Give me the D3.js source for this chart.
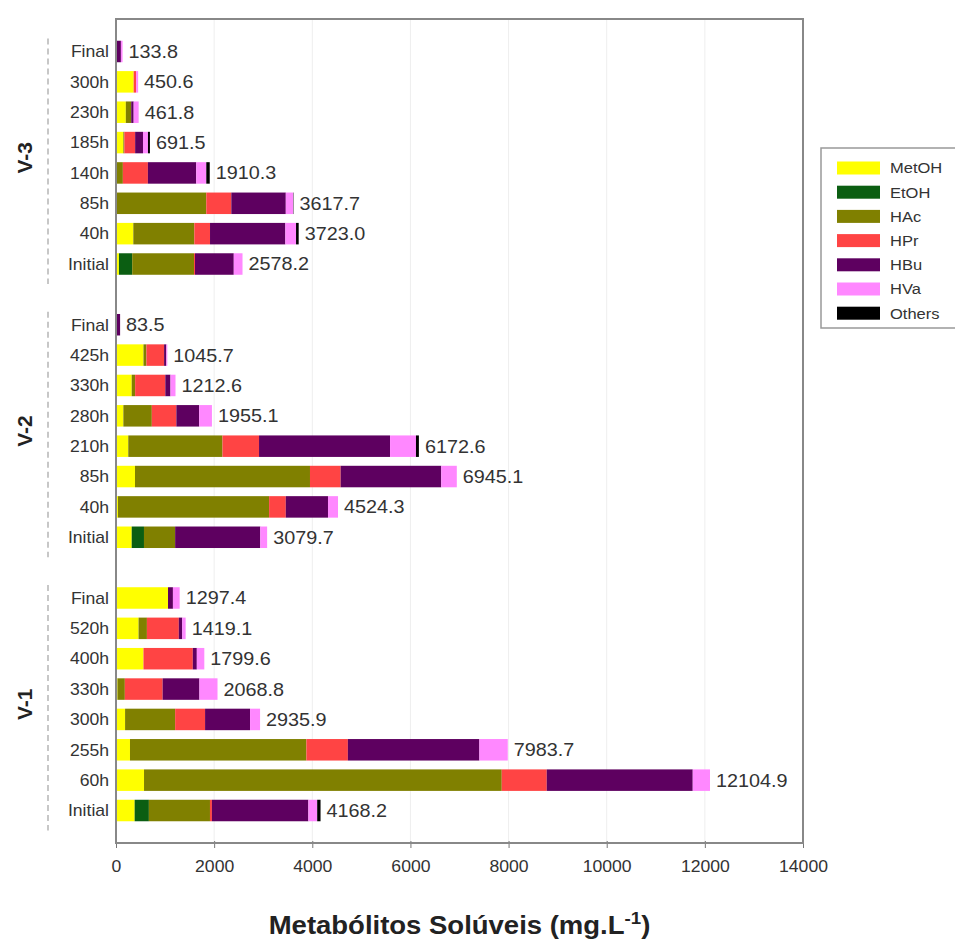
<!DOCTYPE html>
<html>
<head>
<meta charset="utf-8">
<script src="https://cdn.jsdelivr.net/npm/d3@7/dist/d3.min.js"></script>
<style>
  html, body { margin: 0; padding: 0; background: #fff; }
  svg { display: block; font-family: "Liberation Sans", Arial, sans-serif; }
</style>
</head>
<body>
<svg id="chart" width="955" height="941"></svg>
<script>
// Reactor groups, top to bottom, and their sampling times (top to bottom)
const groups = ["V-3", "V-2", "V-1"];
const timesV3 = ["Final", "300h", "230h", "185h", "140h", "85h", "40h", "Initial"];
const timesV2 = ["Final", "425h", "330h", "280h", "210h", "85h", "40h", "Initial"];
const timesV1 = ["Final", "520h", "400h", "330h", "300h", "255h", "60h", "Initial"];

// Soluble metabolites (mg/L); each array follows V-3, V-2, V-1 rows in the order above
const metoh  = [0, 360, 200, 150, 0, 0, 353, 60,      0, 560, 320, 150, 250, 387, 40, 320,      1060, 460, 560, 30, 185, 285, 571, 380];
const etoh   = [0, 0, 0, 0, 0, 0, 0, 270,             0, 0, 0, 0, 0, 0, 0, 250,                 0, 0, 0, 0, 0, 0, 0, 290];
const hac    = [0, 0, 110, 20, 140, 1840, 1243, 1260, 0, 60, 70, 580, 1920, 3566, 3080, 635,    0, 170, 0, 150, 1020, 3595, 7290, 1245];
const hpr    = [0, 50, 0, 220, 510, 510, 320, 20,     0, 360, 615, 500, 745, 625, 340, 0,       0, 650, 1005, 770, 610, 845, 917, 40];
const hbu    = [100, 0, 50, 160, 985, 1110, 1535, 790, 83.5, 45, 105, 465, 2670, 2050, 860, 1735, 100, 70, 82, 750, 917, 2680, 2975, 1965];
const hva    = [33.8, 40.6, 101.8, 101.5, 205, 150, 218, 178.2, 0, 20.7, 102.6, 260.1, 528, 317.1, 204.3, 139.7, 137.4, 69.1, 152.6, 368.8, 203.9, 578.7, 351.9, 180];
const others = [0, 0, 0, 40, 70.3, 7.7, 54, 0,        0, 0, 0, 0, 59.6, 0, 0, 0,                0, 0, 0, 0, 0, 0, 0, 68.2];

const seriesNames  = ["MetOH", "EtOH", "HAc", "HPr", "HBu", "HVa", "Others"];
const seriesColors = ["#ffff00", "#0b5e12", "#808000", "#ff4444", "#5e0060", "#ff88ff", "#000000"];
const xTicks = [0, 2000, 4000, 6000, 8000, 10000, 12000, 14000];

// Build one record per bar, with an empty slot between reactor groups
const groupTimes = [timesV3, timesV2, timesV1];
const seriesValues = [metoh, etoh, hac, hpr, hbu, hva, others];
const rows = [];
const slots = [];
let idx = 0;
groups.forEach((g, gi) => {
  groupTimes[gi].forEach(t => {
    const key = g + "|" + t;
    const rec = { key, group: g, time: t };
    seriesNames.forEach((s, si) => { rec[s] = seriesValues[si][idx]; });
    rec.total = d3.sum(seriesNames, s => rec[s]);
    rows.push(rec);
    slots.push(key);
    idx++;
  });
  if (gi < groups.length - 1) slots.push("gap" + gi);
});

const svg = d3.select("#chart");
const plot = { left: 116, right: 803, top: 19, bottom: 843 };
const stretch = 1.1; // horizontal scaling applied to text

const x = d3.scaleLinear().domain([0, 14000]).range([plot.left, plot.right]);
const y = d3.scalePoint().domain(slots).range([plot.top, plot.bottom]).padding(1.07);
const barH = 21.5;

// light vertical gridlines
svg.append("g").selectAll("line").data(xTicks.slice(1, -1)).join("line")
  .attr("x1", d => x(d)).attr("x2", d => x(d))
  .attr("y1", plot.top).attr("y2", plot.bottom)
  .attr("stroke", "#eeeeee").attr("stroke-width", 1);

// stacked bars
const stack = d3.stack().keys(seriesNames)(rows);
svg.append("g").selectAll("g").data(stack).join("g")
  .attr("fill", (d, i) => seriesColors[i])
  .selectAll("rect").data(d => d).join("rect")
  .attr("x", d => x(d[0]))
  .attr("width", d => Math.max(0, x(d[1]) - x(d[0])))
  .attr("y", d => y(d.data.key) - barH / 2)
  .attr("height", barH);

// helper for horizontally stretched text
function stretchedText(sel, px, py) {
  return sel.attr("transform", `translate(${px},${py}) scale(${stretch},1)`);
}

// total labels
const fmt = d3.format(".1f");
svg.append("g").selectAll("text").data(rows).join("text")
  .each(function (d) { stretchedText(d3.select(this), x(d.total) + 6, y(d.key)); })
  .attr("dy", "0.36em")
  .attr("font-size", 18)
  .attr("fill", "#333")
  .text(d => fmt(d.total));

// time labels
svg.append("g").selectAll("text").data(rows).join("text")
  .each(function (d) { stretchedText(d3.select(this), 109, y(d.key)); })
  .attr("dy", "0.36em")
  .attr("text-anchor", "end")
  .attr("font-size", 16)
  .attr("fill", "#333")
  .text(d => d.time);

// group brackets and names
groups.forEach(g => {
  const gr = rows.filter(r => r.group === g);
  const y0 = y(gr[0].key), y1 = y(gr[gr.length - 1].key);
  svg.append("line")
    .attr("x1", 48).attr("x2", 48)
    .attr("y1", y0 - 13).attr("y2", y1 + 20)
    .attr("stroke", "#b5b5b5").attr("stroke-width", 1.5)
    .attr("stroke-dasharray", "6,4");
  svg.append("text")
    .attr("transform", `translate(32,${(y0 + y1) / 2}) rotate(-90)`)
    .attr("text-anchor", "middle")
    .attr("font-size", 21).attr("font-weight", "bold")
    .attr("fill", "#222")
    .text(g);
});

// bottom axis
const axis = svg.append("g")
  .attr("transform", `translate(0,${plot.bottom})`)
  .call(d3.axisBottom(x).tickValues(xTicks).tickSize(6).tickSizeOuter(0).tickPadding(12).tickFormat(d3.format("d")));
axis.select(".domain").remove();
axis.selectAll(".tick line").attr("stroke", "#777").attr("y1", -2).attr("y2", 5);
axis.selectAll(".tick text")
  .attr("font-size", 16).attr("fill", "#333")
  .attr("font-family", "Liberation Sans, Arial, sans-serif")
  .attr("transform", `scale(${stretch},1)`);

// plot frame
svg.append("rect")
  .attr("x", plot.left).attr("y", plot.top)
  .attr("width", plot.right - plot.left).attr("height", plot.bottom - plot.top)
  .attr("fill", "none").attr("stroke", "#888").attr("stroke-width", 2);

// axis title
const title = svg.append("text")
  .attr("transform", `translate(${(plot.left + plot.right) / 2},934) scale(${stretch},1)`)
  .attr("text-anchor", "middle")
  .attr("font-size", 25).attr("font-weight", "bold").attr("fill", "#222");
title.append("tspan").text("Metabólitos Solúveis (mg.L");
title.append("tspan").attr("font-size", 17).attr("dy", -10).text("-1");
title.append("tspan").attr("dy", 10).text(")");

// legend
const lg = svg.append("g");
lg.append("rect")
  .attr("x", 821).attr("y", 148).attr("width", 140).attr("height", 180)
  .attr("fill", "#fff").attr("stroke", "#999").attr("stroke-width", 1.5);
const item = lg.selectAll("g.item").data(seriesNames).join("g").attr("class", "item")
  .attr("transform", (d, i) => `translate(837,${168 + i * 24.2})`);
item.append("rect")
  .attr("x", 0).attr("y", -6.5).attr("width", 43).attr("height", 13)
  .attr("fill", (d, i) => seriesColors[i]);
item.append("text")
  .attr("transform", `translate(53,0) scale(${stretch},1)`)
  .attr("dy", "0.36em").attr("font-size", 15).attr("fill", "#333")
  .text(d => d);
</script>
</body>
</html>
